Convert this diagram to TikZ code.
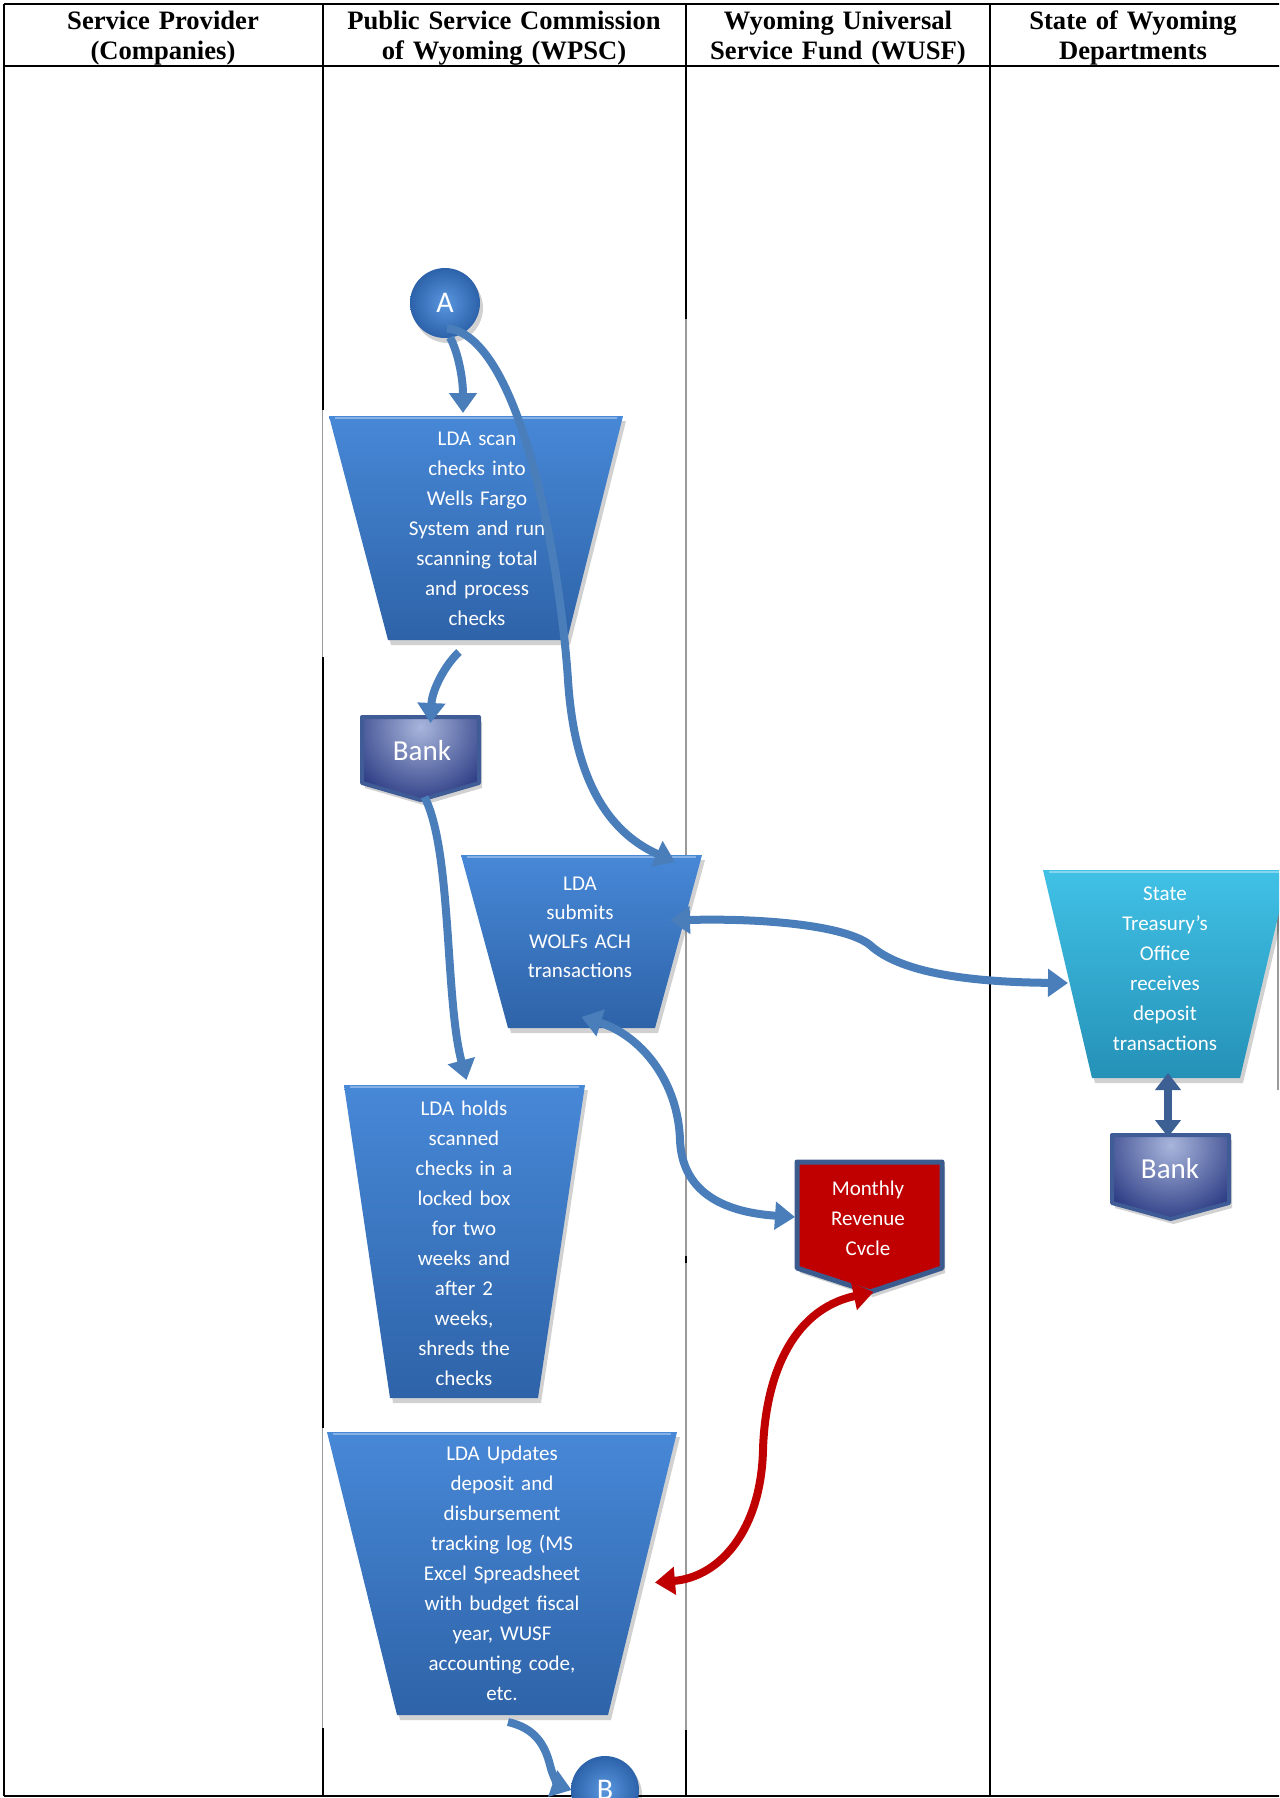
\documentclass[tikz,border=0pt]{standalone}
\usepackage{fontspec}
\setmainfont{Liberation Serif}
\newfontfamily\calibrifont{Carlito}
\usetikzlibrary{arrows.meta,calc,fit}

\definecolor{connblue}{HTML}{4A7EBB}
\definecolor{connred}{HTML}{C00000}
\definecolor{darkconn}{HTML}{3C5F94}
\definecolor{boxtop}{HTML}{4788D7}
\definecolor{boxbot}{HTML}{2E63A8}
\definecolor{cyantop}{HTML}{41C1E6}
\definecolor{cyanbot}{HTML}{2591B7}
\definecolor{banklight}{HTML}{A8B6DC}
\definecolor{bankdark}{HTML}{2B3A83}
\definecolor{bankedge}{HTML}{3F5C96}
\definecolor{revred}{HTML}{C00000}
\definecolor{revedge}{HTML}{3B5B8E}
\definecolor{circlight}{HTML}{5A97DF}
\definecolor{circdark}{HTML}{2C62A9}
\definecolor{gridgrey}{HTML}{9A9A9A}

% trapezoid (wide on top): top y, top-left x, top-right x, bottom y, bottom-left x, bottom-right x, fill style
\newcommand{\funnelshape}[7]{%
  \fill[shadowfill] ({#2+3},{#1+5}) -- ({#3+3},{#1+5}) -- ({#6+3},{#4+5}) -- ({#5+3},{#4+5}) -- cycle;
  \shade[#7] (#2,#1) -- (#3,#1) -- (#6,#4) -- (#5,#4) -- cycle;
  \draw[white, opacity=0.35, line width=1.2pt] ({#2+6},{#1+2}) -- ({#3-6},{#1+2});
}

% bank pentagon pointing down: left x, right x, top y, side bottom y, point y
\newcommand{\bankshape}[5]{%
  \fill[shadowfill] ({#1+3},{#3+5}) -- ({#2+3},{#3+5}) -- ({#2+3},{#4+5}) -- ({(#1+#2)/2+3},{#5+5}) -- ({#1+3},{#4+5}) -- cycle;
  \begin{scope}
    \clip (#1,#3) -- (#2,#3) -- (#2,#4) -- ({(#1+#2)/2},#5) -- (#1,#4) -- cycle;
    \fill[bankdark] (#1,#3) rectangle (#2,#5);
    \shade[inner color=banklight, outer color=bankdark] ({(#1+#2)/2},{#3+10}) circle (80);
  \end{scope}
  \draw[bankedge, line width=2pt, line join=round] (#1,#3) -- (#2,#3) -- (#2,#4) -- ({(#1+#2)/2},#5) -- (#1,#4) -- cycle;
}

\begin{document}
\begin{tikzpicture}[x=0.5pt,y=-0.5pt,
  rule/.style={line width=1pt, black},
  ghostrule/.style={line width=0.8pt, gridgrey},
  headtext/.style={font=\fontsize{13.3}{15}\selectfont\bfseries, align=center, text width=200pt, inner sep=0pt, anchor=base},
  boxtext/.style={font=\calibrifont\fontsize{10.5}{15}\selectfont, text=white, align=center, text width=150pt, inner sep=0pt, anchor=base},
  bigtext/.style={font=\calibrifont\fontsize{14.5}{16}\selectfont, text=white, inner sep=0pt},
  hitbox/.style={inner sep=0pt, outer sep=0pt},
  shadowfill/.style={fill=black, opacity=0.18},
  bluefill/.style={top color=boxtop, bottom color=boxbot},
  cyanfill/.style={top color=cyantop, bottom color=cyanbot},
  roundnode/.style={circle, minimum size=35pt, inner sep=0pt, shade, inner color=circlight, outer color=circdark, font=\calibrifont\fontsize{15}{16}\selectfont, text=white},
  flow/.style={connblue, line width=4pt, -{Triangle[width=13.5pt,length=10pt]}},
  flowboth/.style={connblue, line width=4pt, {Triangle[width=13.5pt,length=10pt]}-{Triangle[width=13.5pt,length=10pt]}},
  redboth/.style={connred, line width=4pt, {Triangle[width=13.5pt,length=10pt]}-{Triangle[width=13.5pt,length=10pt]}},
  darkboth/.style={darkconn, line width=4pt, {Triangle[width=12.5pt,length=8.5pt]}-{Triangle[width=12.5pt,length=8.5pt]}},
]
\useasboundingbox (0,0) rectangle (1279,1798);
\clip (0,0) rectangle (1279,1798);

% ---- table grid ----
\draw[rule] (4,4) -- (1290,4);
\draw[rule] (4,66) -- (1290,66);
\draw[rule] (4,1796) -- (1290,1796);
\draw[rule] (4,4) -- (4,1796);
\draw[rule] (322.5,4) -- (322.5,410);
\draw[ghostrule] (322.5,410) -- (322.5,657);
\draw[rule] (322.5,657) -- (322.5,1428);
\draw[ghostrule] (322.5,1428) -- (322.5,1728);
\draw[rule] (322.5,1728) -- (322.5,1796);
\draw[rule] (686,4) -- (686,319);
\draw[ghostrule] (686,319) -- (686,1256);
\draw[rule] (686,1256) -- (686,1263);
\draw[ghostrule] (686,1263) -- (686,1730);
\draw[rule] (686,1730) -- (686,1796);
\draw[rule] (990,4) -- (990,1796);
\draw[ghostrule] (1278,883) -- (1278,1090);

% ---- column headings ----
\node[headtext] (h1) at (163,29.5) {Service Provider\\(Companies)};
\node[headtext] (h2) at (504,29.5) {Public Service Commission\\of Wyoming (WPSC)};
\node[headtext] (h3) at (838,29.5) {Wyoming Universal\\Service Fund (WUSF)};
\node[headtext] (h4) at (1133,29.5) {State of Wyoming\\Departments};

% ---- process shapes ----
\funnelshape{416}{329}{623}{640}{388}{567}{bluefill}
\node[hitbox, fit={(329,416) (623,640)}] (T1) {};
\node[boxtext] (T1txt) at (477,445) {LDA scan\\checks into\\Wells Fargo\\System and run\\scanning total\\and process\\checks};

\funnelshape{855}{461}{702}{1028}{508}{655}{bluefill}
\node[hitbox, fit={(461,855) (702,1028)}] (T2) {};
\node[boxtext, font=\calibrifont\fontsize{10.5}{14.6}\selectfont] (T2txt) at (580,890) {LDA\\submits\\WOLFs ACH\\transactions};

\funnelshape{1085}{344}{585}{1398}{390}{538}{bluefill}
\node[hitbox, fit={(344,1085) (585,1398)}] (T3) {};
\node[boxtext] (T3txt) at (464,1115) {LDA holds\\scanned\\checks in a\\locked box\\for two\\weeks and\\after 2\\weeks,\\shreds the\\checks};

\funnelshape{1432}{327}{677}{1715}{397}{608}{bluefill}
\node[hitbox, fit={(327,1432) (677,1715)}] (T4) {};
\node[boxtext] (T4txt) at (502,1460) {LDA Updates\\deposit and\\disbursement\\tracking log (MS\\Excel Spreadsheet\\with budget fiscal\\year, WUSF\\accounting code,\\etc.};

\funnelshape{870}{1043}{1289}{1078}{1092}{1240}{cyanfill}
\node[hitbox, fit={(1043,870) (1289,1078)}] (T5) {};
\node[boxtext] (T5txt) at (1165,900) {State\\Treasury’s\\Office\\receives\\deposit\\transactions};

% ---- banks ----
\bankshape{362}{479}{717}{783}{800}
\node[hitbox, fit={(362,717) (479,800)}] (Bank1) {};
\node[bigtext] (Bank1txt) at (422,751) {Bank};

\bankshape{1112}{1229}{1135}{1203}{1219}
\node[hitbox, fit={(1112,1135) (1229,1219)}] (Bank2) {};
\node[bigtext] (Bank2txt) at (1170,1169) {Bank};

% ---- monthly revenue cycle ----
\fill[shadowfill] (800,1167) -- (945,1167) -- (945,1273) -- (873,1297) -- (800,1273) -- cycle;
\filldraw[fill=revred, draw=revedge, line width=2.5pt, line join=round]
  (797,1162) -- (942,1162) -- (942,1268) -- (870,1292) -- (797,1268) -- cycle;
\node[hitbox, fit={(797,1162) (942,1292)}] (MRC) {};
\node[boxtext] (MRCtxt) at (868,1195) {Monthly\\Revenue\\Cvcle};

% ---- connectors A and B ----
\fill[shadowfill] (448,308) circle (35);
\node[roundnode] (A) at (445,303) {A};
\fill[shadowfill] (608,1795) circle (34);
\node[roundnode, minimum size=34pt] (B) at (605,1790) {B};

% ---- flow arrows ----
\draw[flow] ($(A.south)+(5,-1)$) .. controls (458,352) and (463,378) .. ($(T1.north)+(-13,-3)$);
\draw[flow] ($(A.south)+(2,-10)$) .. controls (520,335) and (560,560) .. (568,680)
  .. controls (575,790) and (615,835) .. ($(T2.north east)+(-27,7)$);
\draw[flow] ($(T1.south)+(-17,12)$) .. controls (445,665) and (432,690) .. ($(Bank1.north)+(10,6)$);
\draw[flow] ($(Bank1.south)+(4,-3)$) .. controls (452,850) and (445,1000) .. ($(T3.north)+(2,-5)$);
\draw[flowboth] ($(T2.east)+(-32,-21)$) .. controls (760,918) and (845,925) .. (870,945)
  .. controls (895,968) and (950,982) .. ($(T5.west)+(25,9)$);
\draw[flowboth] ($(T2.south)+(0,-11)$) .. controls (640,1035) and (678,1080) .. (680,1140)
  .. controls (682,1190) and (720,1212) .. ($(MRC.west)+(-2,-10)$);
\draw[redboth] ($(MRC.south)+(4,0)$) .. controls (790,1310) and (765,1380) .. (763,1450)
  .. controls (761,1530) and (720,1577) .. ($(T4.east)+(-22,9)$);
\draw[flow] ($(T4.south)+(6,7)$) .. controls (535,1728) and (545,1745) .. (550,1765)
  .. controls (553,1778) and (560,1786) .. ($(B.west)+(1,0)$);
\draw[darkboth] ($(T5.south)+(2,-5)$) -- ($(Bank2.north)+(-2.5,2)$);
\end{tikzpicture}
\end{document}
